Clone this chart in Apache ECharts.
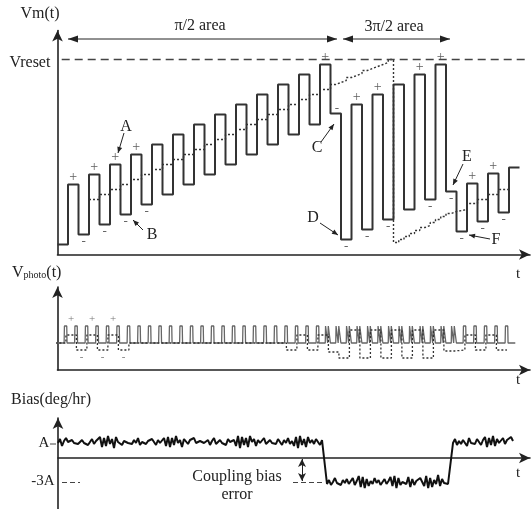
<!DOCTYPE html>
<html><head><meta charset="utf-8">
<script src="https://cdn.jsdelivr.net/npm/echarts@6/dist/echarts.min.js"></script>
<style>html,body{margin:0;padding:0;background:#fff}#c{width:532px;height:509px}</style>
</head><body><div id="c"></div>
<script>
// ---------------- data ----------------
// Vm(t): one level per half-period (index = half-period number)
const vmLevels = [10,70,20,80,30,90,40,100,50,110,60,120,70,130,80,140,90,150,100,160,110,170,120,180,130,190,141,15,150,25,160,35,170,45,180,55,190,63,23,71,33,81,42,87];
// dotted feedback ramp (start time of each step, level)
const rampT = [3,4,5,6,7,8,9,10,11,12,13,14,15,16,17,18,19,20,21,22,23,24,25,26,26.5,27,27.5,28,28.5,29,29.5,30,30.5,31,31.5,32,32.5,33,33.5,34,34.5,35,35.5,36,36.5,37,37.5,38,39,40,41,42];
const rampV = [55,60,65,70,75,80,85,90,95,100,105,110,115,120,125,130,135,140,145,150,155,160,165,170,172,174,177,179,181,184,186,188,190,192,195,12,15,18,21,24,27,29,32,35,38,41,43,45,51,55,60,65];
const rampEnd = 43;
const vresetLevel = 195;
const plusIdx = [1,3,5,7,25,28,30,34,36,39,41];
const minusIdx = [2,4,6,8,27,29,31,35,37,38,40,42];
const cMinus = [26.6, 141];

// Vphoto(t)
const photoBase = 27, photoTop = 44;
const spikeT = [1,2,3,4,5,6,7,8,9,10,11,12,13,14,15,16,17,18,19,20,21,22,23,24,25,26,27,28,29,30,31,32,33,34,35,36,37,38,39,40,41,42,43];
const doubleSpikeT = [26,27,28,29,30,31,32,33,34,35,36,37,38];
const photoErr = [27,35,20,35,20,35,20,27,27,27,27,27,27,27,27,27,27,27,27,27,27,27,20,35,20,35,18,12,40,12,40,12,40,12,40,12,40,19,20,35,20,35,20];
const photoPlusIdx = [1,3,5];
const photoMinusIdx = [2,4,6];

// Bias(deg/hr)
const biasSeg1 = [15,19,12,17,20,16,14,18,15,17,14,16,18,15,17,13,16,19,14,17,15,21,11,20,12,22,14,19,10,21,16,18,13,17,19,15,
17,14,18,15,20,13,16,18,14,17,15,19,16,13,18,15,17,20,12,21,11,20,13,22,15,18,11,19,17,14,18,16,20,15,13,17,
19,15,16,18,13,17,20,14,16,18,15,17,13,19,16,14,18,12,22,10,21,13,20,11,22,16,19,12,18,15,17,20,14,16,18,15,
17,14,19,16,13,18,15,20,14,17,12,21,10,22,13,19,11,21,15,18,14,19,16,13,18,16];
const biasSeg2 = [-26,-22,-27,-24,-20,-25,-23,-27,-22,-25,-21,-26,-24,-20,-27,-23,-18,-29,-19,-30,-21,-28,-23,-26,-20,-25,-22,-27,-24,-21,-26,-23,-19,-28,-18,-30,-20,-27,-24,-22,-26,-19,-29,-21,-27,-23,-25,-20,-24,-28,-18,-30,-20,-29,-22,-26,-17,-28,-21,-25,-23,-26];
const biasSeg3 = [15,19,13,17,14,18,16,12,20,15,17,14,19,16,13,18,21,11,20,13,22,12,19,15,17,20,14,18,16,21,17];
const biasRange1 = [0,266], biasRange2 = [269,390], biasRange3 = [395,455];
const levelA = 15, levelM3A = -24;

// ---------------- build ----------------
const FONT = '"Liberation Serif","DejaVu Serif",serif';
function stepPairs(ts, vs, end){const o=[];for(let i=0;i<ts.length;i++){const t1=i+1<ts.length?ts[i+1]:end;o.push([ts[i],vs[i]],[t1,vs[i]]);}return o;}
const vmData = stepPairs(vmLevels.map((v,i)=>i), vmLevels, vmLevels.length);
const rampData = stepPairs(rampT, rampV, rampEnd);
const errData = stepPairs(photoErr.map((v,i)=>i), photoErr, photoErr.length);

const spikeData=[[0.2,photoBase]];
spikeT.forEach(t=>{
  if(doubleSpikeT.indexOf(t)>=0){
    spikeData.push([t-0.3,photoBase],[t-0.27,photoTop],[t-0.1,photoTop],[t-0.07,photoBase],
                   [t-0.04,photoBase],[t-0.01,photoTop],[t+0.16,photoTop],[t+0.19,photoBase]);
  } else {
    spikeData.push([t-0.17,photoBase],[t-0.14,photoTop],[t+0.08,photoTop],[t+0.11,photoBase]);
  }
});
spikeData.push([43.8,photoBase]);

function seg(arr, r){const st=(r[1]-r[0])/(arr.length-1);return arr.map((v,i)=>[r[0]+i*st,v]);}
const biasData = seg(biasSeg1,biasRange1).concat(seg(biasSeg2,biasRange2),seg(biasSeg3,biasRange3));

const plusPts = plusIdx.map(i=>[i+0.5, vmLevels[i]]);
const minusPts = minusIdx.map(i=>[i+0.5, vmLevels[i]]);

// ---------------- graphics helpers ----------------
function arrowHead(x1,y1,x2,y2,len,w){
  const dx=x2-x1, dy=y2-y1, L=Math.hypot(dx,dy), ux=dx/L, uy=dy/L;
  const bx=x2-ux*len, by=y2-uy*len;
  return {type:'polygon',shape:{points:[[x2,y2],[bx-uy*w,by+ux*w],[bx+uy*w,by-ux*w]]},style:{fill:'#222'},silent:true};
}
function arrow(x1,y1,x2,y2,both,len,w){
  const g=[{type:'line',shape:{x1,y1,x2,y2},style:{stroke:'#222',lineWidth:1},silent:true}, arrowHead(x1,y1,x2,y2,len,w)];
  if(both) g.push(arrowHead(x2,y2,x1,y1,len,w));
  return g;
}
function txt(t,x,y,size,extra){return Object.assign({type:'text',silent:true,style:{text:t,x,y,font:size+'px '+FONT,fill:'#222',align:'center',verticalAlign:'middle'}},extra||{});}

const graphics = [
  txt('Vm(t)',40,14,16),
  txt('Vreset',30,63,16),
  txt('\u03c0/2 area',200,26,16),
  txt('3\u03c0/2 area',394,27,16),
  txt('A',126,127,16), txt('B',152,235,16), txt('C',317,148,16),
  txt('D',313,218,16), txt('E',467,157,16), txt('F',496,240,16),
  txt('t',518,274,15), txt('t',518,380,15), txt('t',518,473,15),
  {type:'text',silent:true,style:{x:12,y:273,verticalAlign:'middle',text:'{a|V}{b|photo}{a|(t)}',
     rich:{a:{fontFamily:FONT,fontSize:16,fill:'#222'},b:{fontFamily:FONT,fontSize:10,fill:'#222',padding:[5,0,0,0]}}}},
  txt('Bias(deg/hr)',51,400,16),
  txt('Coupling bias',237,477,16),
  txt('error',237,495,16),
  txt('A',44,443,15),
  txt('-3A',43,481,15),
  {type:'line',shape:{x1:50,y1:444,x2:56,y2:444},style:{stroke:'#444',lineWidth:1},silent:true}
].concat(
  arrow(124,133,118,153,false,6,2.5),
  arrow(143,230,133,220,false,6,2.5),
  arrow(321,142,334,124,false,6,2.5),
  arrow(320,223,338,235,false,6,2.5),
  arrow(463,164,453,185,false,6,2.5),
  arrow(490,239,469,235,false,6,2.5),
  arrow(68,39,337,39,true,10,3.5),
  arrow(343,39,450,39,true,10,3.5)
);

const axisStyle = {show:true, symbol:['none','arrow'], symbolSize:[8,11], lineStyle:{color:'#222',width:1.6}};
function xA(grid,min,max){return {type:'value',gridIndex:grid,min,max,axisLine:axisStyle,axisTick:{show:false},axisLabel:{show:false},splitLine:{show:false}};}
function yA(grid,min,max){return {type:'value',gridIndex:grid,min,max,axisLine:axisStyle,axisTick:{show:false},axisLabel:{show:false},splitLine:{show:false}};}

const option = {
  animation:false,
  backgroundColor:'#fff',
  grid:[
    {left:57.5, top:30.5, width:472.5, height:224},
    {left:57.5, top:287, width:472.5, height:83},
    {left:58, top:418, width:472, height:91}
  ],
  xAxis:[xA(0,0,45), xA(1,0.2,45.2), Object.assign(xA(2,0,472),{axisLine:Object.assign({},axisStyle,{onZero:true})})],
  yAxis:[yA(0,0,224), yA(1,0,83), yA(2,-51,40)],
  series:[
    {type:'line',xAxisIndex:0,yAxisIndex:0,data:vmData,showSymbol:false,lineStyle:{color:'#333',width:2},z:3,silent:true,
     markLine:{silent:true,symbol:'none',label:{show:false},lineStyle:{color:'#444',type:[8,5],width:1.3},
       data:[[{coord:[0.4,vresetLevel]},{coord:[44.7,vresetLevel]}]]}},
    {type:'line',xAxisIndex:0,yAxisIndex:0,data:rampData,showSymbol:false,lineStyle:{color:'#333',width:1.4,type:[2,2]},z:4,silent:true},
    {type:'scatter',xAxisIndex:0,yAxisIndex:0,data:plusPts,symbolSize:0,silent:true,
     label:{show:true,formatter:'+',position:'top',distance:0,fontSize:14,fontFamily:FONT,color:'#333'}},
    {type:'scatter',xAxisIndex:0,yAxisIndex:0,data:minusPts,symbolSize:0,silent:true,
     label:{show:true,formatter:'-',position:'bottom',distance:1,fontSize:13,fontFamily:FONT,color:'#333'}},
    {type:'scatter',xAxisIndex:0,yAxisIndex:0,data:[cMinus],symbolSize:0,silent:true,
     label:{show:true,formatter:'-',position:'top',distance:-2,fontSize:13,fontFamily:FONT,color:'#333'}},
    {type:'line',xAxisIndex:1,yAxisIndex:1,data:spikeData,showSymbol:false,lineStyle:{color:'#666',width:1.3},z:3,silent:true},
    {type:'line',xAxisIndex:1,yAxisIndex:1,data:errData,showSymbol:false,lineStyle:{color:'#333',width:1.3,type:[2,2]},z:4,silent:true},
    {type:'scatter',xAxisIndex:1,yAxisIndex:1,data:photoPlusIdx.map(i=>[i+0.5,photoTop]),symbolSize:0,silent:true,
     label:{show:true,formatter:'+',position:'top',distance:1,fontSize:11,fontFamily:FONT,color:'#555'}},
    {type:'scatter',xAxisIndex:1,yAxisIndex:1,data:photoMinusIdx.map(i=>[i+0.5,photoErr[i]]),symbolSize:0,silent:true,
     label:{show:true,formatter:'-',position:'bottom',distance:2,fontSize:11,fontFamily:FONT,color:'#555'}},
    {type:'line',xAxisIndex:2,yAxisIndex:2,data:biasData,showSymbol:false,lineStyle:{color:'#111',width:2},z:3,silent:true,
     markLine:{silent:true,symbol:'none',label:{show:false},lineStyle:{color:'#444',type:[5,3],width:1},
       data:[[{coord:[4,levelM3A]},{coord:[22,levelM3A]}],[{coord:[235,levelM3A]},{coord:[267,levelM3A]}]]}},
    {type:'line',xAxisIndex:2,yAxisIndex:2,data:[],silent:true,
     markLine:{silent:true,symbol:['arrow','arrow'],symbolSize:[6,8],label:{show:false},lineStyle:{color:'#222',type:'solid',width:1},
       data:[[{coord:[244,-1]},{coord:[244,levelM3A+1]}]]}}
  ],
  graphic:graphics
};
const chart = echarts.init(document.getElementById('c'));
chart.setOption(option);
</script></body></html>
